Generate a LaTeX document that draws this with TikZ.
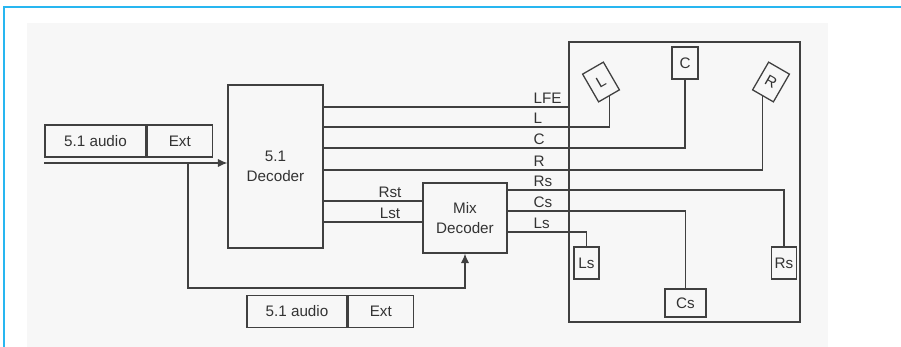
\documentclass[tikz,border=0pt]{standalone}
\usepackage{fontspec}
\setmainfont{Liberation Sans}
\usepackage{xcolor}
\usetikzlibrary{arrows.meta,positioning}
\definecolor{framecol}{RGB}{40,182,240}

\begin{document}
\begin{tikzpicture}[x=0.03cm,y=-0.03cm,
  font=\fontsize{13}{16.5}\selectfont,
  line width=1.1pt,draw=black!75,text=black!80,
  blk/.style={draw=black!75,inner sep=0pt,align=center},
  spk/.style={draw=black!75,inner sep=0pt,minimum width=0.75cm,minimum height=0.96cm},
  lbl/.style={anchor=base west,inner sep=0pt},
  >={Latex[length=8pt,width=7pt]}]
\useasboundingbox (0,0) rectangle (901,347);
\fill[black!3] (27,23) rectangle (828,347);
\draw[framecol,line width=1.5pt] (4,347) -- (4,7) -- (901,7);

% blocks
\node[blk,minimum width=3.03cm,minimum height=0.96cm] (aud1) at (95.5,141) {5.1 audio};
\node[blk,minimum width=1.95cm,minimum height=0.96cm,right=0pt of aud1] (ext1) {Ext};
\node[blk,minimum width=2.85cm,minimum height=4.89cm] (dec) at (275.5,166.5) {5.1\\Decoder};
\node[blk,minimum width=2.52cm,minimum height=2.1cm] (mix) at (465,218) {Mix\\Decoder};
\node[blk,minimum width=3cm,minimum height=0.96cm] (aud2) at (297,311.5) {5.1 audio};
\node[blk,minimum width=1.95cm,minimum height=0.96cm,right=0pt of aud2] (ext2) {Ext};

% room and speakers
\node[blk,minimum width=6.93cm,minimum height=8.4cm] (room) at (684.5,182) {};
\node[spk,rotate=30,minimum width=0.72cm] (spkL) at (601,82) {L};
\node[spk,minimum width=0.78cm] (spkC) at (685,63) {C};
\node[spk,rotate=-30,minimum width=0.72cm] (spkR) at (771,82) {R};
\node[spk] (spkLs) at (586.5,263) {Ls};
\node[spk,minimum width=1.23cm,minimum height=0.84cm] (spkCs) at (685.5,303) {Cs};
\node[spk] (spkRs) at (784,263) {Rs};

% signal lines
\coordinate (src) at (44,163);
\coordinate (tap) at (188,163);
\coordinate (bus) at (188,288);
\foreach \n/\y in {LFE/107,L/127,C/148,R/170,Rst/201,Lst/222,Rs/190,Cs/211,Ls/232}
  \coordinate (y\n) at (0,\y);

\draw[->] (src) -- (src -| dec.west);
\draw[->] (tap) -- (bus) -| (mix.south);
\draw (dec.east |- yLFE) -- (room.west |- yLFE);
\draw (dec.east |- yL) -| (spkL.south);
\draw (dec.east |- yC) -| (spkC.south);
\draw (dec.east |- yR) -| (spkR.south);
\draw (dec.east |- yRst) -- (mix.west |- yRst);
\draw (dec.east |- yLst) -- (mix.west |- yLst);
\draw (mix.east |- yRs) -| (spkRs.north);
\draw (mix.east |- yCs) -| (spkCs.north);
\draw (mix.east |- yLs) -| (spkLs.north);

% labels
\foreach \n/\y in {LFE/104,L/124,C/145,R/167,Rs/187,Cs/208,Ls/229}
  \node[lbl] (t\n) at (533,\y) {\n};
\node[anchor=base,inner sep=0pt] (tRst) at (390,198) {Rst};
\node[anchor=base,inner sep=0pt] (tLst) at (390,219) {Lst};
\end{tikzpicture}
\end{document}
